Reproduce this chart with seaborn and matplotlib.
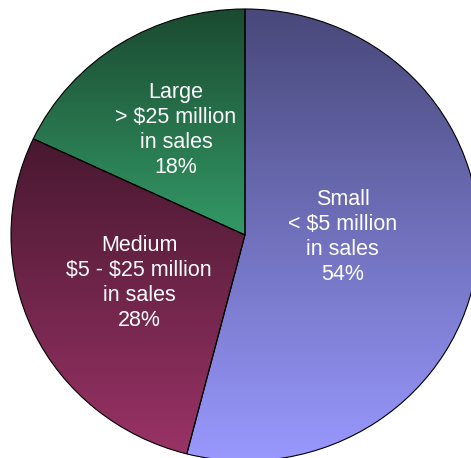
import numpy as np
import matplotlib
matplotlib.use("Agg")
import matplotlib.pyplot as plt
from matplotlib.colors import to_rgb
import seaborn as sns

# data
segments = ["Small", "Medium", "Large"]
shares = [54, 28, 18]
labels = ["Small\n< $5 million\nin sales\n54%",
          "Medium\n$5 - $25 million\nin sales\n28%",
          "Large\n> $25 million\nin sales\n18%"]

# gradient colours per slice (top, bottom)
top_colors = ["#48487a", "#48182f", "#1b4a31"]
bottom_colors = ["#9999ff", "#993366", "#339966"]
label_radius = [0.42, 0.50, 0.55]
label_dy = [0.045, 0.0, 0.0]

sns.set_style("white")
plt.rcParams["font.family"] = ["Liberation Sans", "DejaVu Sans"]
plt.rcParams["text.parse_math"] = False

fig = plt.figure(figsize=(4.71, 4.58), dpi=100)
ax = fig.add_axes([11 / 471, -3 / 458, 468 / 471, 452 / 458])

wedges, _ = ax.pie(shares, startangle=90, counterclock=False,
                   colors=["none"] * 3,
                   wedgeprops=dict(edgecolor="black", linewidth=0.8, zorder=3))

# vertical gradient fill inside each wedge
for w, c0, c1 in zip(wedges, top_colors, bottom_colors):
    v = w.get_path().vertices
    x0, x1 = v[:, 0].min(), v[:, 0].max()
    y0, y1 = v[:, 1].min(), v[:, 1].max()
    t = np.linspace(0, 1, 256)[:, None]
    grad = (1 - t) * np.array(to_rgb(c0)) + t * np.array(to_rgb(c1))
    img = ax.imshow(grad[:, None, :], extent=(x0, x1, y0, y1), origin="upper",
                    aspect="auto", zorder=2, interpolation="bilinear")
    img.set_clip_path(w)

for w, lab, r, dy in zip(wedges, labels, label_radius, label_dy):
    ang = np.deg2rad((w.theta1 + w.theta2) / 2)
    ax.text(r * np.cos(ang), r * np.sin(ang) + dy, lab, ha="center", va="center",
            color="white", fontsize=15.5, linespacing=1.25, zorder=4)

ax.set_aspect("auto")
ax.set_xlim(-1, 1)
ax.set_ylim(-1, 1)
ax.axis("off")

fig.savefig("out.png", dpi=100)
